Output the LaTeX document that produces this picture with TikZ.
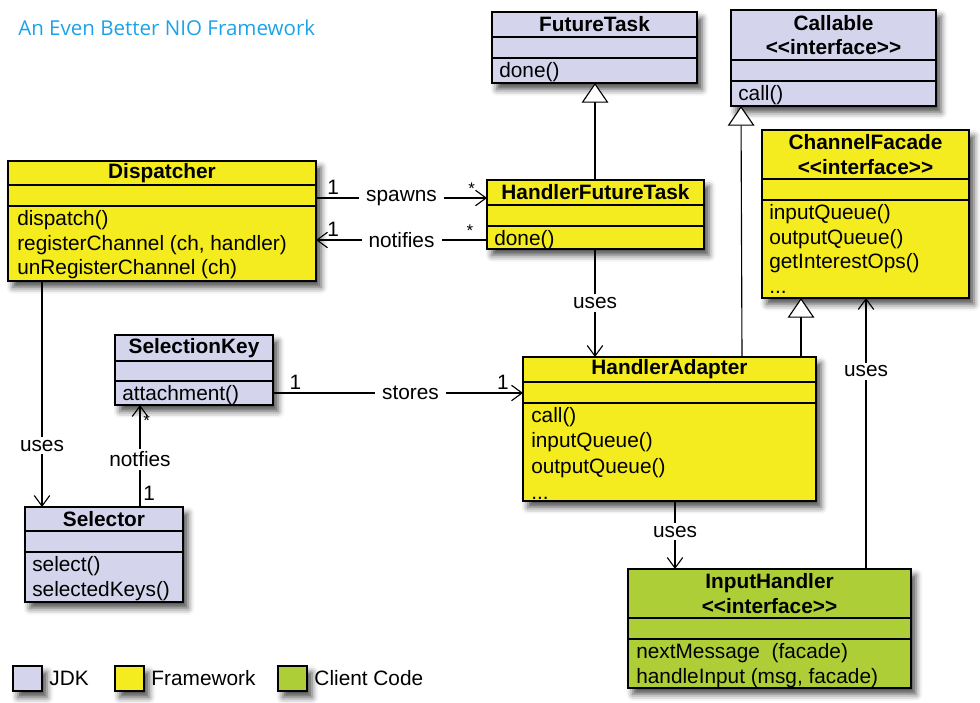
\documentclass[tikz,border=0pt]{standalone}
\usepackage{fontspec}
\usepackage{tikz}
\usetikzlibrary{positioning,arrows.meta,calc,shadows,shadows.blur}
\newfontfamily\umlfont{Liberation Sans}
\newfontfamily\headfont{Open Sans}
\definecolor{jdkc}{HTML}{D4D4EC}
\definecolor{framec}{HTML}{F5EC1F}
\definecolor{clientc}{HTML}{AECE38}
\definecolor{headc}{HTML}{1BA3E9}
\tikzset{
  classbox/.style={draw=black, line width=1.6pt, outer sep=0pt, inner sep=0pt,
    blur shadow={shadow xshift=3.5pt, shadow yshift=-4.5pt, shadow blur radius=4.5pt, shadow opacity=70}},
  sepline/.style={line width=1.3pt},
  classtitle/.style={font=\umlfont\bfseries\fontsize{14.8}{17.6}\selectfont, align=center, inner sep=0pt},
  classops/.style={anchor=north west, align=left, inner sep=0pt},
  uses/.style={line width=0.8pt, -{Straight Barb[length=7.5pt,width=11pt,line width=0.8pt]}},
  inherit/.style={line width=0.8pt, -{Triangle[open,length=14pt,width=19pt,line width=0.8pt,fill=white]}},
  lbl/.style={fill=white, inner xsep=5pt, inner ysep=2pt},
  mult/.style={inner sep=2pt},
  star/.style={inner sep=2pt, font=\umlfont\fontsize{12}{14}\selectfont},
  legendbox/.style={classbox, minimum width=0.725cm, minimum height=0.625cm}
}
% name, fill, left, top, right, bottom, first rule, second rule, title
\newcommand{\umlclass}[9]{%
  \node[classbox, fill=#2, anchor=north west,
    minimum width={(#5-#3)*0.025cm}, minimum height={(#6-#4)*0.025cm}] (#1) at (#3,#4) {};
  \draw[sepline] (#3,#7) -- (#5,#7);
  \draw[sepline] (#3,#8) -- (#5,#8);
  \node[classtitle] (#1-title) at ({(#3+#5)/2},{(#4+#7)/2}) {#9};
}
\newcommand{\stereo}{<\kern0pt<interface>\kern0pt>}

\begin{document}
\begin{tikzpicture}[x=0.025cm, y=-0.025cm, font=\umlfont\fontsize{14.8}{17.6}\selectfont]
  \useasboundingbox (0,0) rectangle (980,703);
  \node[anchor=west, text=headc, font=\headfont\fontsize{14.6}{17}\selectfont, inner sep=0pt] (head) at (18,28) {An Even Better NIO Framework};

  % classes
  \umlclass{disp}{framec}{8}{161}{316}{281}{185}{206}{Dispatcher}
  \node[classops] (disp-ops) at (17,210) {dispatch()\\registerChannel (ch, handler)\\unRegisterChannel (ch)};
  \umlclass{ftask}{jdkc}{492}{12}{697}{83}{37}{58}{FutureTask}
  \node[classops] (ftask-ops) at (499,62) {done()};
  \umlclass{hft}{framec}{487}{180}{704}{249}{205}{226}{HandlerFutureTask}
  \node[classops] (hft-ops) at (494,230) {done()};
  \umlclass{callable}{jdkc}{731}{10}{936}{106}{60}{81}{Callable\\\stereo}
  \node[classops] (callable-ops) at (738,85) {call()};
  \umlclass{cfacade}{framec}{762}{130}{969}{298}{179}{200}{ChannelFacade\\\stereo}
  \node[classops] (cfacade-ops) at (769,204) {inputQueue()\\outputQueue()\\getInterestOps()\\...};
  \umlclass{skey}{jdkc}{115}{335}{273}{405}{361}{381}{SelectionKey}
  \node[classops] (skey-ops) at (122,385) {attachment()};
  \umlclass{selector}{jdkc}{25}{507}{183}{602}{531}{552}{Selector}
  \node[classops] (selector-ops) at (32,556) {select()\\selectedKeys()};
  \umlclass{ha}{framec}{523}{357}{816}{501}{382}{403}{HandlerAdapter}
  \node[classops, font=\umlfont\fontsize{14.8}{18.2}\selectfont] (ha-ops) at (531,407) {call()\\inputQueue()\\outputQueue()\\...};
  \umlclass{ih}{clientc}{628}{569}{911}{688}{618}{639}{InputHandler\\\stereo}
  \node[classops] (ih-ops) at (636,643) {nextMessage\ \ (facade)\\handleInput (msg, facade)};

  % generalisations
  \draw[inherit] (hft.north -| 595,0) -- (ftask.south -| 595,0);
  \draw[inherit] (ha.north -| 742,0) -- (callable.south -| 741,0);
  \draw[inherit] (ha.north -| 801,0) -- (cfacade.south -| 801,0);

  % associations
  \draw[uses] (disp.east |- 0,198) -- node[lbl] {spawns}
    node[mult, pos=0.1, above] {1} node[star, pos=0.91, above] {*} (hft.west |- 0,198);
  \draw[uses] (hft.west |- 0,240) -- node[lbl] {notifies}
    node[star, pos=0.1, above] {*} node[mult, pos=0.9, above] {1} (disp.east |- 0,240);
  \draw[uses] (skey.east |- 0,393) -- node[lbl, pos=0.55] {stores}
    node[mult, pos=0.09, above] {1} node[mult, pos=0.92, above] {1} (ha.west |- 0,393);
  \draw[uses] (disp.south -| 42,0) -- node[lbl, pos=0.73] {uses} (selector.north -| 42,0);
  \draw[uses] (selector.north -| 140,0) -- node[lbl, pos=0.47] {notfies}
    node[mult, pos=0.13, right] {1} node[star, pos=0.85, right] {*} (skey.south -| 140,0);
  \draw[uses] (hft.south -| 595,0) -- node[lbl] {uses} (ha.north -| 595,0);
  \draw[uses] (ha.south -| 675,0) -- node[lbl, pos=0.45] {uses} (ih.north -| 675,0);
  \draw[uses] (ih.north -| 866,0) -- node[lbl, pos=0.73] {uses} (cfacade.south -| 866,0);

  % legend
  \node[legendbox, fill=jdkc] (leg-jdk) at (27.5,678.5) {};
  \node[right=0.18cm of leg-jdk, inner sep=0pt] (leg-jdk-t) {JDK};
  \node[legendbox, fill=framec] (leg-frame) at (129.5,678.5) {};
  \node[right=0.18cm of leg-frame, inner sep=0pt] (leg-frame-t) {Framework};
  \node[legendbox, fill=clientc] (leg-client) at (292.5,678.5) {};
  \node[right=0.18cm of leg-client, inner sep=0pt] (leg-client-t) {Client Code};
\end{tikzpicture}
\end{document}
